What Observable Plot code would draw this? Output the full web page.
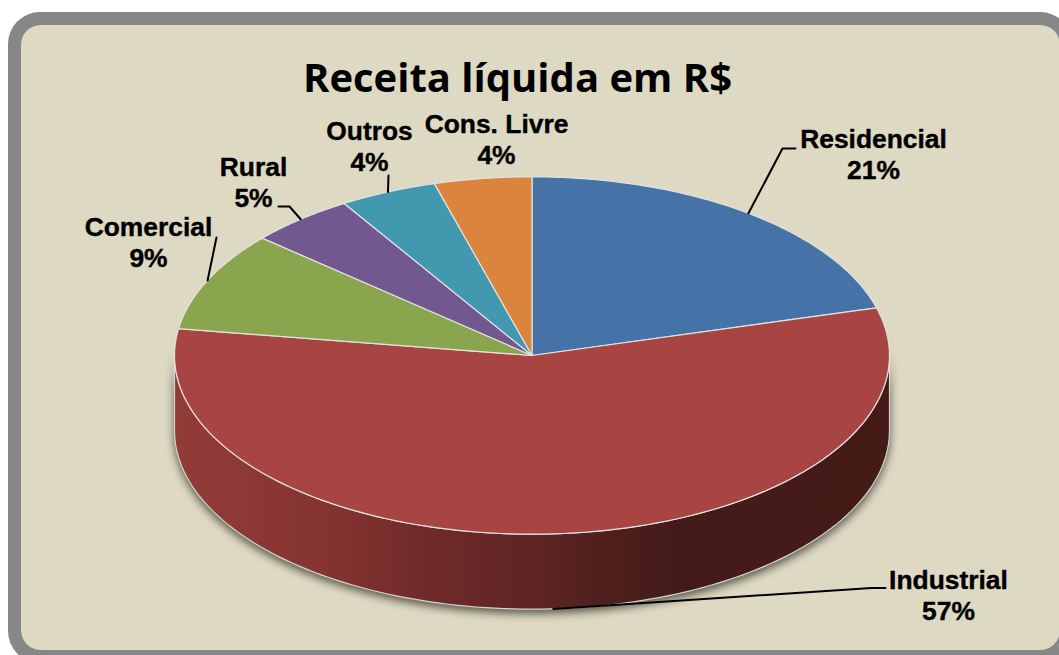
<!DOCTYPE html>
<html lang="pt">
<head>
<meta charset="utf-8">
<script src="https://cdn.jsdelivr.net/npm/d3@7"></script>
<script src="https://cdn.jsdelivr.net/npm/@observablehq/plot@0.6"></script>
<style>
html,body{margin:0;padding:0;background:#fff;width:1059px;height:655px;overflow:hidden}
#page{position:relative;width:1059px;height:655px;overflow:hidden}
#outer{position:absolute;left:8px;top:12px;width:1064px;height:651px;background:#878787;border-radius:32px}
#inner{position:absolute;left:21px;top:25px;width:1039px;height:625px;background:#DDD9C3;border-radius:20px}
#chart{position:absolute;left:0;top:0}
.wall{filter:drop-shadow(0 4px 4px rgba(50,50,35,.75))}
</style>
</head>
<body>
<div id="page"><div id="outer"></div><div id="inner"></div><div id="chart"></div></div>
<script>
// Data
const categories = ["Residencial", "Industrial", "Comercial", "Rural", "Outros", "Cons. Livre"];
const shares = [20.7, 56.7, 9.0, 4.8, 4.4, 4.4];
const sliceColors = ["#4572A7", "#A84441", "#89A54E", "#71588F", "#4198AF", "#DB843D"];
const chartTitle = "Receita líquida em R$";

// Layout options
const pieShape = {cx: 531.5, cy: 355, rx: 357.5, ry: 178.7, depth: 75};
const labelLayout = {
  "Residencial": {at: [873, 153], leader: [[782, 148], [795, 148]]},
  "Industrial": {at: [948, 594.5], leader: [[871, 587.5], [885, 587.5]], onWall: true},
  "Comercial": {at: [148, 241.5], leader: [[216, 237]]},
  "Rural": {at: [253, 181.5], leader: [[289, 206], [278, 206]]},
  "Outros": {at: [369, 145.5], leader: [[388, 175]]},
  "Cons. Livre": {at: [496, 138.5], leader: null}
};

const rim = (a, dz = 0) => [
  pieShape.cx + pieShape.rx * Math.sin(a),
  pieShape.cy - pieShape.ry * Math.cos(a) + dz
];
const arcPoints = (a0, a1, dz = 0) => d3.range(0, 121).map(i => rim(a0 + (a1 - a0) * i / 120, dz));

const arcs = d3.pie().sort(null).value(d => d)(shares);

// Top face of each slice, as closed polygons derived from the shares
const slicePoints = arcs.flatMap((arc, i) =>
  [[pieShape.cx, pieShape.cy], ...arcPoints(arc.startAngle, arc.endAngle)]
    .map(([x, y]) => ({name: categories[i], x, y}))
);

// Side wall: the part of the Industrial arc on the front half of the pie
const ind = arcs[1];
const wallStart = Math.max(ind.startAngle, Math.PI / 2);
const wallEnd = Math.min(ind.endAngle, 3 * Math.PI / 2);
const wallPoints = [
  ...arcPoints(wallStart, wallEnd, 0),
  ...arcPoints(wallEnd, wallStart, pieShape.depth)
].map(([x, y]) => ({x, y}));

// Leader lines start on the rim at each slice's middle angle
const leaderPoints = arcs.flatMap((arc, i) => {
  const layout = labelLayout[categories[i]];
  if (!layout.leader) return [];
  const start = rim((arc.startAngle + arc.endAngle) / 2, layout.onWall ? pieShape.depth : 0);
  return [start, ...layout.leader].map(([x, y]) => ({name: categories[i], x, y}));
});

const labels = categories.map((name, i) => ({
  text: `${name}\n${Math.round(shares[i])}%`,
  x: labelLayout[name].at[0],
  y: labelLayout[name].at[1]
}));

const wallGradient = () => {
  const defs = d3.create("svg:defs");
  const g = defs.append("linearGradient").attr("id", "wallGradient");
  [[0, "#923c38"], [0.19, "#873532"], [0.36, "#6f2a28"], [0.5, "#5f2524"], [0.6, "#4f1f1d"], [0.7, "#441b19"], [1, "#451b18"]]
    .forEach(([o, c]) => g.append("stop").attr("offset", o).attr("stop-color", c));
  return defs.node();
};

const plot = Plot.plot({
  width: 1059,
  height: 655,
  margin: 0,
  style: {background: "transparent"},
  x: {domain: [0, 1059], range: [0, 1059], axis: null},
  y: {domain: [0, 655], range: [0, 655], axis: null},
  color: {domain: categories, range: sliceColors},
  marks: [
    wallGradient,
    Plot.line(wallPoints, {
      x: "x", y: "y", curve: "linear-closed",
      fill: "url(#wallGradient)", stroke: "#d4d4d4", strokeWidth: 1.2, className: "wall"
    }),
    Plot.line(slicePoints, {
      x: "x", y: "y", z: "name", curve: "linear-closed",
      fill: "name", stroke: "#e2e2e2", strokeWidth: 1.2
    }),
    Plot.line(leaderPoints, {
      x: "x", y: "y", z: "name", stroke: "#000", strokeWidth: 2, curve: "linear"
    }),
    Plot.text(labels, {
      x: "x", y: "y", text: "text", fill: "#000", stroke: "#000", strokeWidth: 0.4, lineHeight: 1.17,
      fontFamily: "Liberation Sans", fontWeight: "bold", fontSize: 26.4
    }),
    Plot.text([chartTitle], {
      x: () => 517, y: () => 79, text: d => d, fill: "#000",
      fontFamily: "Open Sans", fontWeight: "bold", fontSize: 40
    })
  ]
});
document.getElementById("chart").appendChild(plot);
</script>
</body>
</html>
